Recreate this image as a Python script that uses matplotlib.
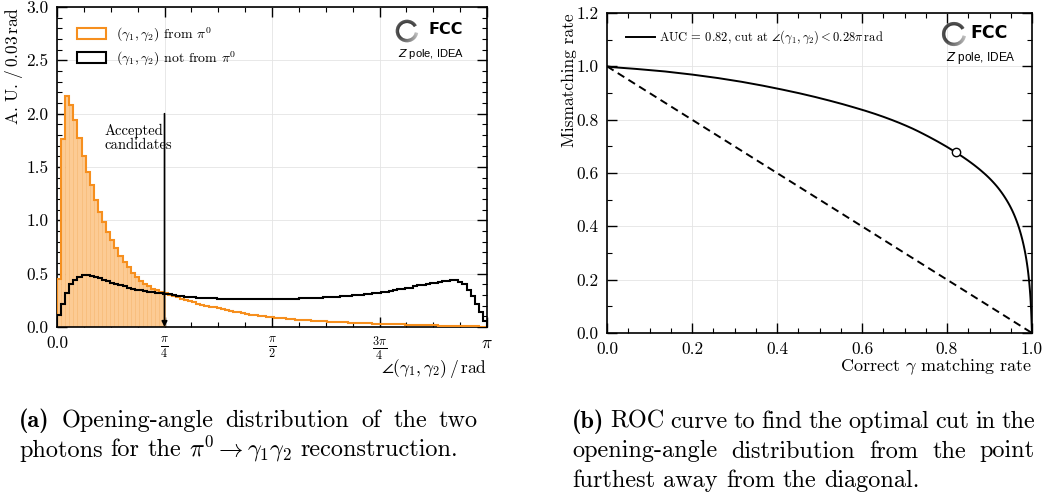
import numpy as np
import matplotlib
matplotlib.use("Agg")
import matplotlib.pyplot as plt
from matplotlib.patches import Patch
from matplotlib.lines import Line2D
from matplotlib.collections import LineCollection
from matplotlib.ticker import MultipleLocator, FormatStrFormatter
from matplotlib.transforms import IdentityTransform

plt.rcParams["font.family"] = "serif"
plt.rcParams["font.serif"] = ["cmr10"]
plt.rcParams["mathtext.fontset"] = "cm"
plt.rcParams["axes.formatter.use_mathtext"] = True
plt.rcParams["axes.unicode_minus"] = False

# ---- data ----
n_bins = 105
angle_max = np.pi
accept_cut = np.pi / 4
roc_cut = 0.28 * np.pi

# opening angle histogram, (gamma1, gamma2) from pi0, A.U. per bin
from_pi0 = [
    0.45, 1.76, 2.17, 2.08, 1.94, 1.77, 1.60, 1.45, 1.33, 1.19,
    1.08, 0.98, 0.89, 0.82, 0.74, 0.67, 0.61, 0.56, 0.51, 0.47,
    0.43, 0.40, 0.38, 0.36, 0.35, 0.33, 0.32, 0.30, 0.29, 0.28,
    0.26, 0.25, 0.24, 0.23, 0.22, 0.21, 0.20, 0.19, 0.185, 0.175,
    0.165, 0.158, 0.150, 0.143, 0.136, 0.128, 0.120, 0.115, 0.110, 0.105,
    0.100, 0.096, 0.092, 0.088, 0.084, 0.080, 0.077, 0.073, 0.070, 0.066,
    0.064, 0.062, 0.059, 0.057, 0.054, 0.052, 0.050, 0.048, 0.046, 0.045,
    0.043, 0.041, 0.040, 0.038, 0.037, 0.035, 0.034, 0.032, 0.031, 0.030,
    0.029, 0.028, 0.026, 0.025, 0.024, 0.023, 0.022, 0.021, 0.020, 0.019,
    0.018, 0.016, 0.015, 0.014, 0.013, 0.012, 0.011, 0.010, 0.009, 0.008,
    0.007, 0.006, 0.005, 0.004, 0.003,
]
# (gamma1, gamma2) not from pi0
not_from_pi0 = [
    0.11, 0.22, 0.32, 0.40, 0.44, 0.47, 0.49, 0.49, 0.48, 0.47,
    0.46, 0.44, 0.43, 0.41, 0.40, 0.39, 0.38, 0.37, 0.36, 0.35,
    0.345, 0.34, 0.33, 0.325, 0.32, 0.315, 0.31, 0.305, 0.30, 0.295,
    0.29, 0.285, 0.28, 0.28, 0.275, 0.275, 0.27, 0.27, 0.27, 0.265,
    0.265, 0.265, 0.265, 0.263, 0.262, 0.262, 0.26, 0.26, 0.26, 0.26,
    0.26, 0.26, 0.26, 0.26, 0.262, 0.263, 0.264, 0.265, 0.266, 0.268,
    0.27, 0.271, 0.272, 0.274, 0.276, 0.278, 0.28, 0.282, 0.285, 0.288,
    0.29, 0.293, 0.296, 0.30, 0.303, 0.306, 0.31, 0.315, 0.32, 0.325,
    0.33, 0.337, 0.345, 0.352, 0.36, 0.365, 0.37, 0.38, 0.39, 0.395,
    0.40, 0.408, 0.415, 0.423, 0.43, 0.435, 0.44, 0.438, 0.425, 0.40,
    0.35, 0.29, 0.22, 0.14, 0.06,
]

x_ticks_a = [0, np.pi / 4, np.pi / 2, 3 * np.pi / 4, np.pi]
x_ticklabels_a = ["0.0", r"$\frac{\pi}{4}$", r"$\frac{\pi}{2}$", r"$\frac{3\pi}{4}$", r"$\pi$"]

caption_a = [
    [("(a)", True), "Opening-angle", "distribution", "of", "the", "two"],
    ["photons", "for", "the", r"$\pi^0 \rightarrow \gamma_1\gamma_2$", "reconstruction."],
]
caption_b = [
    [("(b)", True), "ROC", "curve", "to", "find", "the", "optimal", "cut", "in", "the"],
    ["opening-angle", "distribution", "from", "the", "point"],
    ["furthest", "away", "from", "the", "diagonal."],
]

orange = "#f68f1e"
fill_orange = "#fccb94"

W, H = 1047, 492
fig = plt.figure(figsize=(W / 100, H / 100), dpi=100)


def px_axes(x0, y0, x1, y1):
    # pixel box (top-left origin) -> figure fraction
    return fig.add_axes([x0 / W, 1 - y1 / H, (x1 - x0) / W, (y1 - y0) / H])


ax1 = px_axes(57, 7, 487, 327)
ax2 = px_axes(607, 13, 1032, 333)

for ax in (ax1, ax2):
    ax.tick_params(which="both", direction="in", top=True, right=True, labelsize=12.5, pad=6)
    ax.tick_params(which="major", length=7, width=1.0)
    ax.tick_params(which="minor", length=3.5, width=0.8)
    for s in ax.spines.values():
        s.set_linewidth(1.2)
    ax.grid(True, which="major", color="#e4e4e4", lw=0.6)
    ax.set_axisbelow(True)

# ---- panel (a) ----
edges = np.linspace(0, angle_max, n_bins + 1)
sig = np.array(from_pi0)
bkg = np.array(not_from_pi0)

mask = edges[:-1] < accept_cut
left = edges[:-1][mask]
right = np.minimum(edges[1:][mask], accept_cut)
ax1.bar(left, sig[mask], width=right - left, align="edge", color=fill_orange,
        edgecolor="#f8bb78", lw=0.5, zorder=1)
ax1.stairs(sig, edges, color=orange, lw=1.5, zorder=3)
ax1.stairs(bkg, edges, color="black", lw=1.5, zorder=4)

ax1.annotate("", xy=(accept_cut, 0.0), xytext=(accept_cut, 2.0),
             arrowprops=dict(arrowstyle="-|>", color="black", lw=1.2,
                             mutation_scale=8, shrinkA=0, shrinkB=0), zorder=5)
ax1.text(0.35, 1.77, "Accepted\ncandidates", fontsize=10.5, ha="left", va="center",
         multialignment="left", linespacing=1.05)

ax1.set_xlim(0, np.pi)
ax1.set_ylim(0, 3.0)
ax1.set_xticks(x_ticks_a)
ax1.set_xticklabels(x_ticklabels_a)
ax1.xaxis.set_minor_locator(MultipleLocator(np.pi / 16))
ax1.yaxis.set_major_locator(MultipleLocator(0.5))
ax1.yaxis.set_minor_locator(MultipleLocator(0.1))
ax1.yaxis.set_major_formatter(FormatStrFormatter("%.1f"))
ax1.set_ylabel(r"$\mathrm{A.\,U.\,/\,0.03\,rad}$", fontsize=12.5, loc="top")
ax1.yaxis.set_label_coords(-(57 - 25) / 430, 1.0)
ax1.set_xlabel(r"$\angle(\gamma_1, \gamma_2)\,/\,\mathrm{rad}$", fontsize=12.5, loc="right")
ax1.xaxis.set_label_coords(1.0, -(369 - 327) / 320)
ax1.xaxis.label.set_va("center")

handles_a = [Patch(facecolor="white", edgecolor=orange, lw=1.5),
             Patch(facecolor="white", edgecolor="black", lw=1.5)]
ax1.legend(handles_a, [r"$(\gamma_1, \gamma_2)$ from $\pi^0$",
                       r"$(\gamma_1, \gamma_2)$ not from $\pi^0$"],
           loc="upper left", bbox_to_anchor=(0.034, 0.96), frameon=False, fontsize=10,
           handlelength=2.1, handleheight=0.85, handletextpad=0.7, labelspacing=0.4,
           borderaxespad=0)

# ---- panel (b): ROC from the two histograms ----
cum_sig = np.concatenate([[0], np.cumsum(sig)]) / sig.sum()
cum_bkg = np.concatenate([[0], np.cumsum(bkg)]) / bkg.sum()
ax2.plot(cum_sig, 1 - cum_bkg, color="black", lw=1.4)
ax2.plot([0, 1], [1, 0], color="black", lw=1.4, ls=(0, (4, 2.5)))
xc = np.interp(roc_cut, edges, cum_sig)
yc = 1 - np.interp(roc_cut, edges, cum_bkg)
ax2.plot(xc, yc, "o", mfc="white", mec="black", ms=6, mew=1.0, zorder=5)

ax2.set_xlim(0, 1.0)
ax2.set_ylim(0, 1.2)
ax2.xaxis.set_major_locator(MultipleLocator(0.2))
ax2.xaxis.set_minor_locator(MultipleLocator(0.05))
ax2.yaxis.set_major_locator(MultipleLocator(0.2))
ax2.yaxis.set_minor_locator(MultipleLocator(0.1))
ax2.xaxis.set_major_formatter(FormatStrFormatter("%.1f"))
ax2.yaxis.set_major_formatter(FormatStrFormatter("%.1f"))
ax2.set_ylabel("Mismatching rate", fontsize=12.5, loc="top")
ax2.yaxis.set_label_coords(-(607 - 577) / 425, 1.0)
ax2.set_xlabel(r"Correct $\gamma$ matching rate", fontsize=13, loc="right")
ax2.xaxis.set_label_coords(1.0, -(367 - 333) / 320)
ax2.xaxis.label.set_va("center")
ax2.legend([Line2D([], [], color="black", lw=1.4)],
           [r"AUC = 0.82, cut at $\angle(\gamma_1, \gamma_2) < 0.28\pi\,\mathrm{rad}$"],
           loc="upper left", bbox_to_anchor=(0.033, 0.967), frameon=False, fontsize=9,
           handlelength=2.3, handletextpad=0.35, borderaxespad=0)


# ---- FCC logos ----
def fcc_logo(cx, cy, r, fcc_x, fcc_y, sub_x, sub_y, size, sub_size):
    box = px_axes(cx - r - 3, cy - r - 3, cx + r + 3, cy + r + 3)
    box.set_xlim(-1.3, 1.3)
    box.set_ylim(-1.3, 1.3)
    box.set_aspect("equal")
    box.axis("off")
    th = np.radians(np.linspace(30, 350, 160))
    pts = np.column_stack([np.cos(th), np.sin(th)])
    segs = np.stack([pts[:-1], pts[1:]], axis=1)
    frac = np.linspace(0, 1, len(segs))
    grey = np.clip((frac - 0.6) / 0.4, 0, 1) * 0.65
    cols = [(g, g, g) for g in grey]
    box.add_collection(LineCollection(segs, colors=cols, linewidths=2.4, capstyle="butt"))
    fig.text(fcc_x / W, 1 - fcc_y / H, "FCC", fontsize=size, fontweight="bold",
             family="DejaVu Sans", va="center", ha="left")
    fig.text(sub_x / W, 1 - sub_y / H, "$Z$ pole, IDEA", fontsize=sub_size,
             family="Liberation Sans", math_fontfamily="dejavusans", va="center", ha="left")


fcc_logo(407, 31, 9.5, 429, 30, 398, 54, 11.5, 8)
fcc_logo(954, 34, 10.5, 970, 33, 946, 58, 12.5, 8.5)


# ---- captions, justified ----
renderer = fig.canvas.get_renderer()


def caption(lines, x0, x1, y_first, dy, size):
    for li, words in enumerate(lines):
        y = H - (y_first + li * dy)
        texts = []
        for w in words:
            bold = isinstance(w, tuple)
            s = w[0] if bold else w
            t = fig.text(0, y, s, fontsize=size, transform=IdentityTransform(),
                         va="baseline", ha="left",
                         family="cmb10" if bold else "cmr10")
            texts.append(t)
        widths = [t.get_window_extent(renderer).width for t in texts]
        last = li == len(lines) - 1
        if last:
            gap = size * 100 / 72 * 0.33
        else:
            gap = (x1 - x0 - sum(widths)) / (len(words) - 1)
        x = x0
        for t, wd in zip(texts, widths):
            t.set_x(x)
            x += wd + gap


caption(caption_a, 19, 478, 427, 29.5, 17.5)
caption(caption_b, 572, 1035, 428, 29.5, 17.5)

fig.savefig("out.png", dpi=100)
